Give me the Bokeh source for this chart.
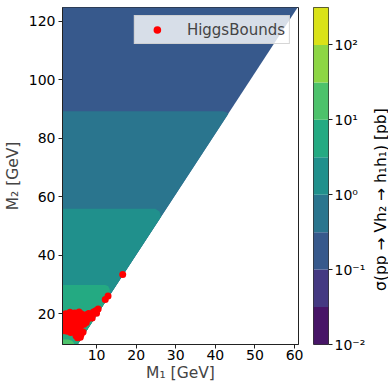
import math
from bokeh.plotting import figure
from bokeh.layouts import row
from bokeh.models import (FixedTicker, Range1d, Legend, LegendItem, Label)
from bokeh.palettes import Viridis256
from bokeh.embed import file_html
from bokeh.resources import INLINE

# ---------------- data ----------------
# colour levels (log10 of cross section in pb)
level_log = [-2.0, -1.5, -1.0, -0.5, 0.0, 0.5, 1.0, 1.5, 2.0, 2.5]
cbar_ticks = [-2, -1, 0, 1, 2]
cbar_tick_labels = ["10⁻²", "10⁻¹", "10⁰", "10¹", "10²"]

# kinematic edge of the scanned region (M2 ~ 2 M1)
kin_edge_m1 = [4.96, 61.4]
kin_edge_m2 = [9.0, 126.0]

# contour lines of the cross section (M1, M2 points)
contour_levels = [-0.5, 0.0, 0.5, 1.0]
contour_m1 = [
    [0.0, 42.0, 42.9, 43.3],
    [0.0, 24.8, 25.9, 26.3],
    [0.0, 12.2, 12.9, 13.3, 13.45],
    [0.0, 2.8, 3.8, 4.3, 4.5],
]
contour_m2 = [
    [89.2, 89.2, 88.8, 88.4],
    [55.9, 55.9, 55.0, 53.2],
    [29.8, 29.8, 29.5, 28.5, 26.6],
    [11.2, 11.2, 10.8, 10.0, 9.0],
]

# HiggsBounds points
hb_m1 = [1.6, 2.2, 2.8, 3.3, 3.9, 4.5, 5.1, 5.6, 6.2, 6.8, 7.4, 8.0, 8.6, 9.2,
         9.8, 10.4, 10.0, 8.9, 7.8, 6.5, 5.4, 4.2, 3.0, 2.0, 1.5,
         1.5, 2.3, 3.1, 3.9, 4.6, 5.3, 6.0, 6.8, 7.4, 2.6, 3.5, 4.3, 5.0, 5.7,
         6.1, 6.6, 4.8, 1.8, 5.9, 5.2, 12.2, 12.9, 16.6]
hb_m2 = [19.2, 20.0, 19.0, 20.5, 19.8, 20.3, 19.4, 20.6, 19.9, 19.0, 19.7, 20.1,
         19.3, 20.6, 21.0, 21.6, 20.2, 18.6, 18.2, 17.8, 18.2, 18.0, 17.6, 18.0,
         17.0, 15.5, 16.2, 15.0, 16.4, 15.3, 16.5, 15.8, 16.4, 17.0, 14.0, 13.6,
         14.3, 13.2, 14.0, 12.9, 13.8, 12.5, 14.2, 12.0, 11.8, 24.9, 26.1, 33.4]

cbar_title = "σ(pp → Vh₂ → h₁h₁) [pb]"

# ---------------- styling ----------------
FONT = "DejaVu Sans"
AX = "#222222"
nbin = len(level_log) - 1
palette = [Viridis256[int(round((i + 0.5) / nbin * 255))] for i in range(nbin)]

def color_for(lo):
    return palette[level_log.index(lo)]

p = figure(width=305, height=384, output_backend="svg", toolbar_location=None,
           x_range=Range1d(1.4, 61.0), y_range=Range1d(9.5, 124.7),
           min_border_left=62, min_border_right=7, min_border_top=7,
           min_border_bottom=37)
p.background_fill_color = "white"
p.border_fill_color = "white"
p.xgrid.visible = False
p.ygrid.visible = False
p.outline_line_color = AX
p.outline_line_width = 1

x0 = -1.0
y0 = kin_edge_m2[0]
# whole region (lowest band)
p.patch([x0, kin_edge_m1[0], kin_edge_m1[1], x0], [y0, y0, kin_edge_m2[1], kin_edge_m2[1]],
        fill_color=color_for(-1.0), line_color=None)
# super-level regions
for lev, xs, ys in zip(contour_levels, contour_m1, contour_m2):
    px = [x0] + xs[1:]
    py = list(ys)
    if ys[-1] > y0 + 0.01:
        px.append(kin_edge_m1[0]); py.append(y0)
    px.append(x0); py.append(y0)
    p.patch(px, py, fill_color=color_for(lev), line_color=None)

pts = p.scatter(hb_m1, hb_m2, size=7, color="red", line_color=None)

legend = Legend(items=[LegendItem(label="HiggsBounds", renderers=[pts])],
                location="top_right", margin=8, padding=4, glyph_width=36,
                glyph_height=19, label_height=19, label_standoff=12,
                label_text_font=FONT, label_text_font_size="15px",
                background_fill_color="white", background_fill_alpha=0.8,
                border_line_color="#cccccc", border_line_alpha=0.8)
p.add_layout(legend)

for ax in (p.xaxis[0], p.yaxis[0]):
    ax.major_label_text_font = FONT
    ax.major_label_text_font_size = "14px"
    ax.major_label_text_color = "black"
    ax.axis_label_text_font = FONT
    ax.axis_label_text_font_size = "15.5px"
    ax.axis_label_text_font_style = "normal"
    ax.axis_line_color = AX
    ax.major_tick_line_color = AX
    ax.major_tick_out = 4
    ax.major_tick_in = 0
    ax.minor_tick_line_color = None
p.yaxis.axis_label_standoff = 4
p.yaxis.major_label_standoff = 3
p.xaxis.axis_label_standoff = 1
p.xaxis.major_label_standoff = 1
p.xaxis.ticker = FixedTicker(ticks=[10, 20, 30, 40, 50, 60])
p.yaxis.ticker = FixedTicker(ticks=[20, 40, 60, 80, 100, 120])
p.xaxis.axis_label = "M₁ [GeV]"
p.yaxis.axis_label = "M₂ [GeV]"

# ---------------- colour bar as its own small figure ----------------
cb = figure(width=63, height=384, output_backend="svg", toolbar_location=None,
            x_range=Range1d(0, 1), y_range=Range1d(level_log[0], level_log[-1]),
            x_axis_location=None, y_axis_location="right",
            min_border_left=8, min_border_right=37, min_border_top=7,
            min_border_bottom=37)
cb.xgrid.visible = False
cb.ygrid.visible = False
cb.outline_line_color = "#333333"
cb.background_fill_color = "white"
cb.border_fill_color = "white"
cb.quad(left=0, right=1, bottom=level_log[:-1], top=level_log[1:],
        fill_color=palette, line_color=None)
cax = cb.yaxis[0]
cax.ticker = FixedTicker(ticks=cbar_ticks)
cax.major_label_overrides = {t: s for t, s in zip(cbar_ticks, cbar_tick_labels)}
cax.major_label_text_font = FONT
cax.major_label_text_font_size = "14px"
cax.major_label_text_color = "black"
cax.major_tick_out = 4
cax.major_tick_in = 0
cax.major_tick_line_color = AX
cax.minor_tick_line_color = None
cax.axis_line_color = None
cax.major_label_standoff = 2

# ---------------- colour-bar title in a thin strip ----------------
lf = figure(width=20, height=384, output_backend="svg", toolbar_location=None,
            x_range=Range1d(0, 1), y_range=Range1d(0, 1),
            x_axis_location=None, y_axis_location=None,
            min_border_left=0, min_border_right=0, min_border_top=7,
            min_border_bottom=37)
lf.xgrid.visible = False
lf.ygrid.visible = False
lf.outline_line_color = None
lf.background_fill_color = "white"
lf.border_fill_color = "white"
lf.add_layout(Label(x=0.6, y=0.43, text=cbar_title, angle=math.pi / 2,
                    text_align="center", text_baseline="middle",
                    text_font=FONT, text_font_size="15.5px", text_color="black"))

layout = row(p, cb, lf)
open("out.html", "w").write(file_html(layout, INLINE))
